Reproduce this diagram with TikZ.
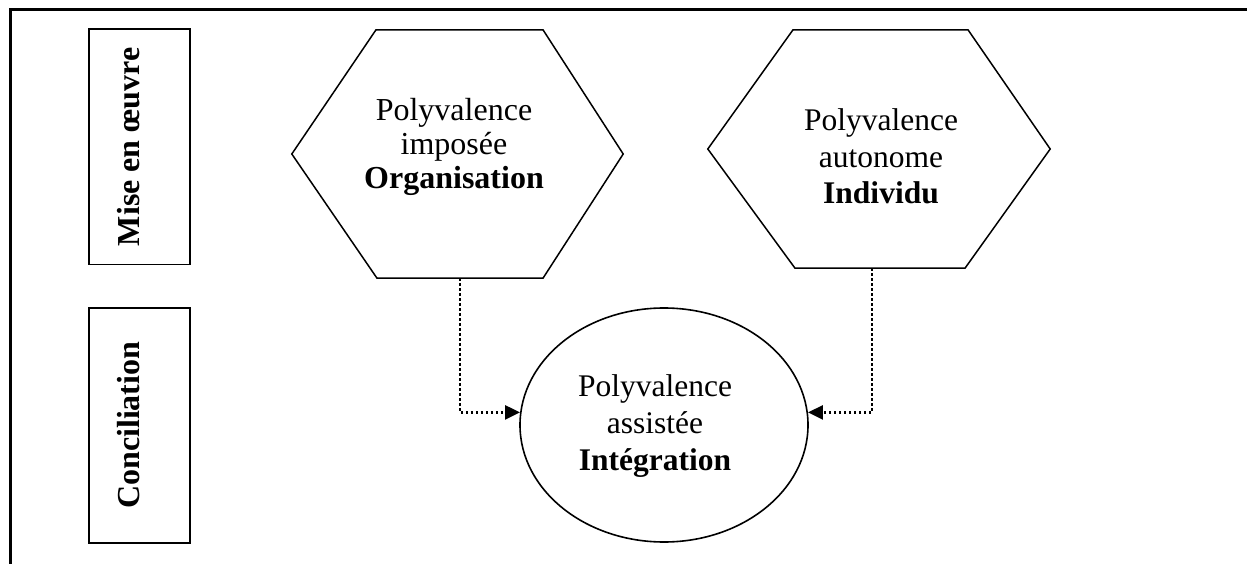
\documentclass[tikz,border=0pt]{standalone}
\usepackage{fontspec}
\setmainfont{Liberation Serif}
\usetikzlibrary{shapes.geometric,arrows.meta,calc}
\begin{document}
\begin{tikzpicture}[x=1pt,y=-1pt,
  frame/.style={line width=2.5pt},
  sidebox/.style={draw,line width=1.6pt,rotate=90,inner sep=0pt,minimum width=235pt,minimum height=101pt,font=\fontsize{32}{36}\selectfont\bfseries},
  hexbox/.style={inner sep=0pt,draw=none},
  hexline/.style={line width=1.5pt,line join=miter},
  lbl/.style={align=center,inner sep=0pt,anchor=north},
  conn/.style={line width=2.6pt,dash pattern=on 2.6pt off 2.4pt,-{Triangle[length=15pt,width=14pt]}}
]
\useasboundingbox (0,0) rectangle (1247,564);
\draw[frame] (10.5,564) -- (10.5,9.5) -- (1247,9.5);

% side labels
\node[sidebox] (m1) at (139.5,146.8) {\smash{Mise en œuvre}};
\node[sidebox] (m2) at (139.5,425.3) {\smash{Conciliation}};

% hexagons
\node[hexbox,minimum width=331pt,minimum height=248pt] (h1) at (457.5,154) {};
\draw[hexline] (h1.west) -- ([xshift=-81.5pt]h1.north) -- ([xshift=85.5pt]h1.north) -- (h1.east) -- ([xshift=85.5pt]h1.south) -- ([xshift=-80.5pt]h1.south) -- cycle;
\node[hexbox,minimum width=342pt,minimum height=238pt] (h2) at (879,149) {};
\draw[hexline] (h2.west) -- ([xshift=-86pt]h2.north) -- ([xshift=89pt]h2.north) -- (h2.east) -- ([xshift=86pt]h2.south) -- ([xshift=-84pt]h2.south) -- cycle;

% ellipse
\node[draw,ellipse,line width=1.6pt,minimum width=288pt,minimum height=234pt,inner sep=0pt] (ell) at (664,425) {};

% texts
\node[lbl,font=\fontsize{32}{34}\selectfont] (h1t) at (454,98) {Polyvalence\\imposée\\\textbf{Organisation}};
\node[lbl,font=\fontsize{31.5}{36.5}\selectfont] (h2t) at (881,108.5) {Polyvalence\\autonome\\\textbf{Individu}};
\node[lbl,font=\fontsize{31.5}{37}\selectfont] (elt) at (655,374.5) {Polyvalence\\assistée\\\textbf{Intégration}};

% connectors
\draw[conn] ([xshift=2.5pt]h1.south) |- (ell.175);
\draw[conn] ([xshift=-7pt]h2.south) |- (ell.5);
\end{tikzpicture}
\end{document}
